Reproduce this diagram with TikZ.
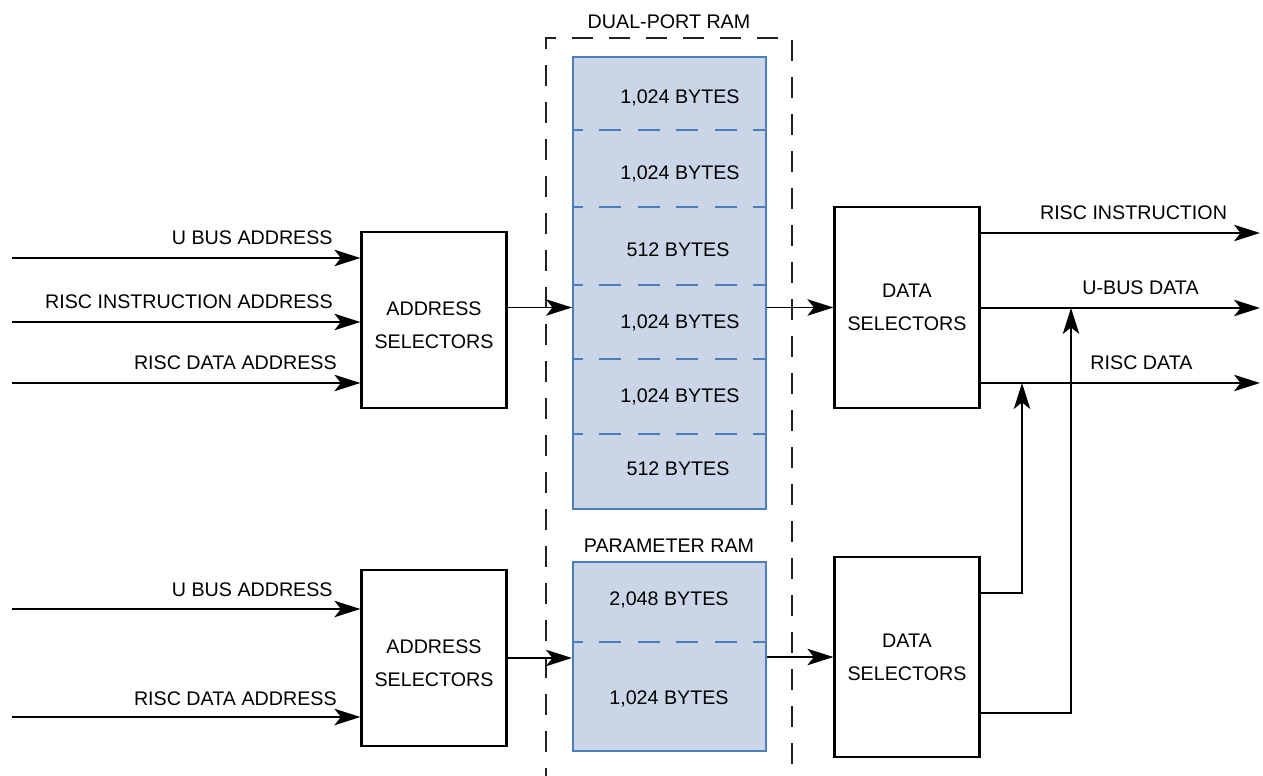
\documentclass[tikz,border=0pt]{standalone}
\usepackage{fontspec}
\setmainfont{Liberation Sans}
\usetikzlibrary{arrows.meta,calc,positioning}
\definecolor{ramblue}{HTML}{4F7DBA}
\definecolor{ramfill}{HTML}{CAD6E8}
\definecolor{framegray}{HTML}{222222}

\begin{document}
\begin{tikzpicture}[
  x=0.02cm,
  y=-0.02cm,
  >={Stealth[length=5.2mm,width=3.3mm,inset=1.3mm]},
  font=\fontsize{11.2}{18.8}\selectfont,
  selbox/.style={
    draw=black,
    line width=1.3pt,
    minimum width=2.9cm,
    align=center,
    inner sep=0pt
  },
  rambox/.style={
    draw=ramblue,
    fill=ramfill,
    line width=1.2pt,
    minimum width=3.86cm,
    inner sep=0pt
  },
  ramdivider/.style={
    draw=ramblue,
    line width=1.4pt,
    dash pattern=on 0.44cm off 0.33cm,
    dash phase=0.22cm
  },
  ramframe/.style={
    draw=framegray,
    line width=0.95pt,
    dash pattern=on 0.42cm off 0.32cm,
    dash phase=0.25cm
  },
  sigline/.style={draw=black, line width=0.8pt},
  sigarrow/.style={sigline, ->},
  sigtext/.style={inner sep=0pt}
]

\useasboundingbox (0,0) rectangle (1263,776);

% dual-port RAM frame
\draw[ramframe] (546,776) -- (546,38) -- (792,38) -- (792,776);
\node[sigtext,anchor=base] (dptitle) at (669,29) {DUAL-PORT RAM};

\node[rambox,minimum height=9.04cm] (dpram) at (669.5,283) {};
\foreach \dy in {130,207,285,359,434}
  \draw[ramdivider] (dpram.west |- 0,\dy) -- (dpram.east |- 0,\dy);

\node[sigtext,anchor=base] (dpa) at (680,104) {1,024 BYTES};
\node[sigtext,anchor=base] (dpb) at (680,180) {1,024 BYTES};
\node[sigtext,anchor=base] (dpc) at (678,257) {512 BYTES};
\node[sigtext,anchor=base] (dpd) at (680,329) {1,024 BYTES};
\node[sigtext,anchor=base] (dpe) at (680,402) {1,024 BYTES};
\node[sigtext,anchor=base] (dpf) at (678,475) {512 BYTES};

% parameter RAM
\node[sigtext,anchor=base] (prtitle) at (669,552) {PARAMETER RAM};
\node[rambox,minimum height=3.78cm] (pram) at (669.5,656.5) {};
\draw[ramdivider] (pram.west |- 0,642) -- (pram.east |- 0,642);
\node[sigtext,anchor=base] (pra) at (669,605) {2,048 BYTES};
\node[sigtext,anchor=base] (prb) at (669,704) {1,024 BYTES};

% selectors
\node[selbox,minimum height=3.52cm,text height=1.15cm] (asel1) at (434,320) {ADDRESS\\SELECTORS};
\node[selbox,minimum height=3.52cm,text height=1.15cm] (asel2) at (434,658) {ADDRESS\\SELECTORS};
\node[selbox,minimum height=4.02cm] (dsel1) at (907,307.5) {DATA\\SELECTORS};
\node[selbox,minimum height=4.0cm] (dsel2) at (907,657) {DATA\\SELECTORS};

% address inputs
\coordinate (in1) at (12,258);
\coordinate (in2) at (12,322);
\coordinate (in3) at (12,383);
\coordinate (in4) at (12,609);
\coordinate (in5) at (12,717);
\draw[sigarrow] (in1) -- (in1 -| asel1.west);
\draw[sigarrow] (in2) -- (in2 -| asel1.west);
\draw[sigarrow] (in3) -- (in3 -| asel1.west);
\draw[sigarrow] (in4) -- (in4 -| asel2.west);
\draw[sigarrow] (in5) -- (in5 -| asel2.west);
\node[sigtext,anchor=base east] (lin1) at (333,245) {U BUS ADDRESS};
\node[sigtext,anchor=base east] (lin2) at (333,309) {RISC INSTRUCTION ADDRESS};
\node[sigtext,anchor=base east] (lin3) at (337,370) {RISC DATA ADDRESS};
\node[sigtext,anchor=base east] (lin4) at (333,596) {U BUS ADDRESS};
\node[sigtext,anchor=base east] (lin5) at (337,705) {RISC DATA ADDRESS};

% through the RAM
\draw[sigarrow] (asel1.east |- dsel1.west) -- (dpram.west |- dsel1.west);
\draw[sigarrow] (dpram.east |- dsel1.west) -- (dsel1.west);
\draw[sigarrow] (asel2.east) -- (pram.west |- asel2.east);
\draw[sigarrow] (pram.east |- dsel2.west) -- (dsel2.west);

% data outputs
\coordinate (risci) at (1260,233);
\coordinate (ubus) at (1260,308);
\coordinate (riscd) at (1260,383);
\draw[sigarrow] (dsel1.east |- risci) -- (risci);
\draw[sigarrow] (dsel1.east |- ubus) -- (ubus);
\draw[sigarrow] (dsel1.east |- riscd) -- (riscd);
\node[sigtext,anchor=base] (lri) at (1133.5,220) {RISC INSTRUCTION};
\node[sigtext,anchor=base] (lub) at (1140.5,295) {U-BUS DATA};
\node[sigtext,anchor=base] (lrd) at (1141.5,370) {RISC DATA};

\coordinate (tap1) at (1022,593);
\coordinate (tap2) at (1071,713);
\draw[sigarrow] (dsel2.east |- tap1) -- (tap1) -- (tap1 |- riscd);
\draw[sigarrow] (dsel2.east |- tap2) -- (tap2) -- (tap2 |- ubus);

\end{tikzpicture}
\end{document}
